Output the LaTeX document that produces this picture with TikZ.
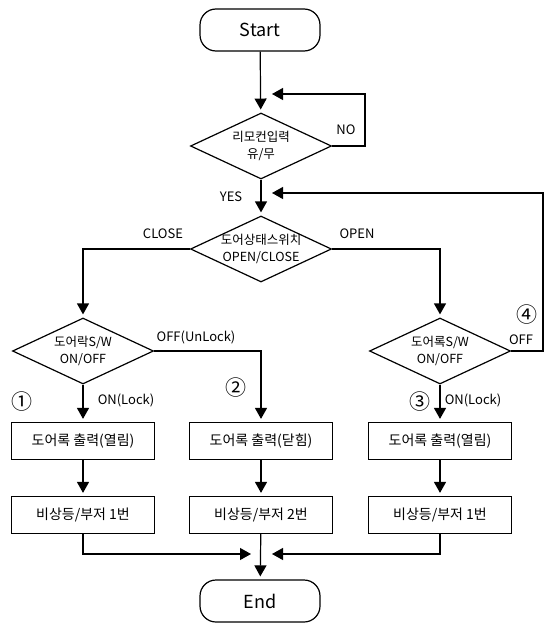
\documentclass[tikz,border=0pt]{standalone}
\usepackage{fontspec}
\setmainfont{Noto Sans CJK KR}
\usetikzlibrary{shapes.geometric,arrows.meta,positioning,calc}

\begin{document}
\begin{tikzpicture}[x=1pt, y=-1pt, line width=1.2pt,
    term/.style={rectangle, draw, rounded corners=16pt, minimum width=120pt, minimum height=42pt, font=\fontsize{18}{20}\selectfont},
    decision/.style={diamond, draw, align=center, aspect=2.14, inner sep=-4pt, minimum width=141pt, minimum height=66pt, font=\fontsize{12.5}{17.5}\selectfont},
    process/.style={rectangle, draw, minimum width=143pt, minimum height=37pt, font=\fontsize{14}{16}\selectfont},
    txt/.style={font=\fontsize{13}{15}\selectfont},
    num/.style={font=\fontsize{21}{23}\selectfont},
    arrow/.style={-{Triangle[length=11pt,width=12pt]}, shorten >=3pt},
    feed/.style={-{Triangle[length=11pt,width=12pt]}}]
    \useasboundingbox (0,0) rectangle (551,629);

    \node[term] (start) at (260,30) {Start};
    \node[decision] (remote) at (261,146) {리모컨입력\\유/무};
    \node[decision] (doorState) at (261,249) {도어상태스위치\\OPEN/CLOSE};
    \node[decision] (latchSw) at (83,351) {도어락S/W\\ON/OFF};
    \node[decision] (lockSw) at (440,351) {도어록S/W\\ON/OFF};

    \node[process] (outOpenL) at (83,441) {도어록 출력(열림)};
    \node[process] (outClose) at (261,441) {도어록 출력(닫힘)};
    \node[process] (outOpenR) at (440,441) {도어록 출력(열림)};
    \node[process] (alarmL) at (83,515) {비상등/부저 1번};
    \node[process] (alarmM) at (261,515) {비상등/부저 2번};
    \node[process] (alarmR) at (440,515) {비상등/부저 1번};
    \node[term] (end) at (260,601) {End};

    \coordinate (noTurn) at (365,94);
    \coordinate (noIn) at (272,94);
    \coordinate (offTurn) at (543,193);
    \coordinate (offIn) at (272,193);
    \coordinate (mergeL) at (251,554);
    \coordinate (mergeR) at (272,554);

    \draw[arrow] (start) -- (remote);
    \draw[feed] (remote.east) -| (noTurn) -- (noIn);
    \draw[arrow] (remote) -- (doorState);
    \draw[feed] (lockSw.east) -| (offTurn) -- (offIn);
    \draw[arrow] (doorState.west) -| (latchSw.north);
    \draw[arrow] (doorState.east) -| (lockSw.north);
    \draw[arrow] (latchSw) -- (outOpenL);
    \draw[arrow] (latchSw.east) -| (outClose.north);
    \draw[arrow] (lockSw) -- (outOpenR);
    \draw[arrow] (outOpenL) -- (alarmL);
    \draw[arrow] (outClose) -- (alarmM);
    \draw[arrow] (outOpenR) -- (alarmR);
    \draw[feed] (alarmL.south) |- (mergeL);
    \draw[feed] (alarmR.south) |- (mergeR);
    \draw[arrow] (alarmM) -- (end);

    \node[txt] (noLbl) at (346,130) {NO};
    \node[txt] (yesLbl) at (231,197) {YES};
    \node[txt] (closeLbl) at (163,234) {CLOSE};
    \node[txt] (openLbl) at (357,234) {OPEN};
    \node[txt] (unlockLbl) at (196,337) {OFF(UnLock)};
    \node[txt] (lockLblL) at (126,400) {ON(Lock)};
    \node[txt] (lockLblR) at (473,400) {ON(Lock)};
    \node[txt] (offLbl) at (521,340) {OFF};
    \node[num] (n1) at (22,402) {①};
    \node[num] (n2) at (236,388) {②};
    \node[num] (n3) at (420,402) {③};
    \node[num] (n4) at (527,315) {④};
\end{tikzpicture}
\end{document}
